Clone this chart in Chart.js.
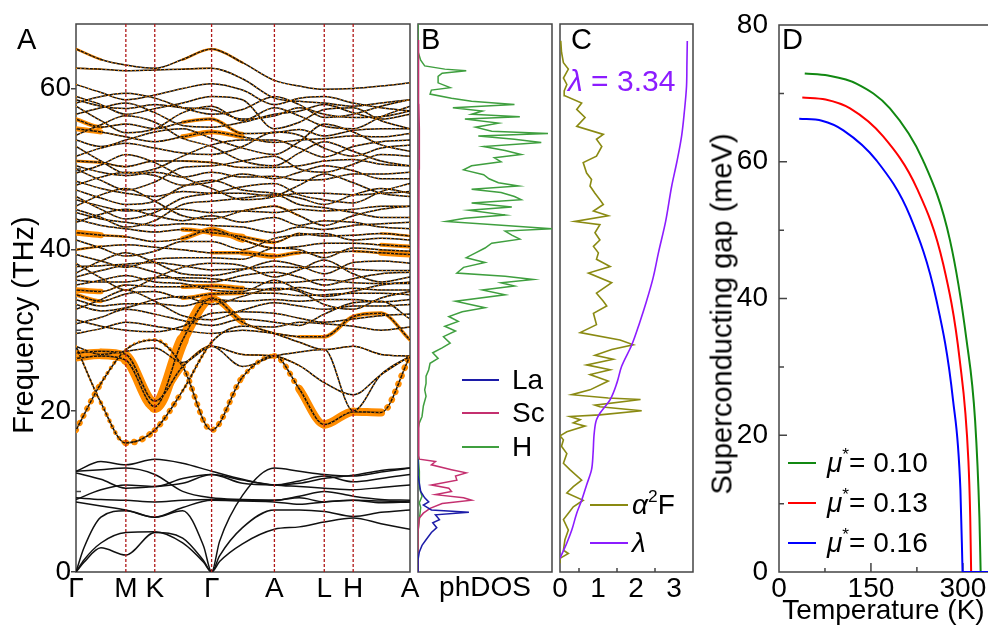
<!DOCTYPE html>
<html>
<head>
<meta charset="utf-8">
<script src="https://cdn.jsdelivr.net/npm/chart.js@4.4.1/dist/chart.umd.min.js"></script>
<style>
body{margin:0;background:#fff;width:988px;height:628px;position:relative;overflow:hidden;font-family:"Liberation Sans",Arial,Helvetica,sans-serif;}
canvas{position:absolute;top:0;}
.t{position:absolute;white-space:nowrap;line-height:1;color:#000;}
.rot{transform:translate(-50%,-50%) rotate(-90deg);}
.ln{position:absolute;height:2px;}
.sup{font-size:0.62em;position:relative;top:-0.7em;}
</style>
</head>
<body>
<canvas id="cA" width="424" height="628" style="left:0"></canvas>
<canvas id="cB" width="142" height="628" style="left:414px"></canvas>
<canvas id="cC" width="150" height="628" style="left:548px"></canvas>
<canvas id="cD" width="290" height="628" style="left:698px"></canvas>

<div class="t" style="left:17px;top:25px;font-size:29px">A</div>
<div class="t" style="left:421px;top:25px;font-size:29px">B</div>
<div class="t" style="left:571px;top:25px;font-size:29px">C</div>
<div class="t" style="left:782px;top:25px;font-size:29px">D</div>

<div class="t rot" style="left:23px;top:325px;font-size:29px">Frequency (THz)</div>
<div class="t rot" style="left:722px;top:314px;font-size:29px">Superconducting gap (meV)</div>

<div class="ln" style="left:462px;top:379px;width:37px;background:#1c1ca8"></div>
<div class="t" style="left:512px;top:366px;font-size:28px">La</div>
<div class="ln" style="left:462px;top:412px;width:37px;background:#c4306f"></div>
<div class="t" style="left:512px;top:399px;font-size:28px">Sc</div>
<div class="ln" style="left:462px;top:446px;width:37px;background:#3f9f3f"></div>
<div class="t" style="left:512px;top:433px;font-size:28px">H</div>

<div class="t" style="left:568px;top:66px;font-size:30px;color:#8c1cff"><i>λ</i> = 3.34</div>
<div class="ln" style="left:590px;top:504px;width:38px;background:#8a8a12"></div>
<div class="t" style="left:632px;top:491px;font-size:28px"><i>α</i><span class="sup">2</span>F</div>
<div class="ln" style="left:590px;top:542px;width:38px;background:#8c1cff"></div>
<div class="t" style="left:632px;top:529px;font-size:28px"><i>λ</i></div>

<div class="ln" style="left:788px;top:462px;width:28px;background:#118811"></div>
<div class="t" style="left:827px;top:449px;font-size:28px"><i>μ</i><span class="sup">*</span>= 0.10</div>
<div class="ln" style="left:788px;top:502px;width:28px;background:#ff0000"></div>
<div class="t" style="left:827px;top:489px;font-size:28px"><i>μ</i><span class="sup">*</span>= 0.13</div>
<div class="ln" style="left:788px;top:542px;width:28px;background:#0000ff"></div>
<div class="t" style="left:827px;top:529px;font-size:28px"><i>μ</i><span class="sup">*</span>= 0.16</div>

<script>
// k-path (positions along the path) and labels
const kPos = [0, 50, 79, 136, 199, 249, 278, 335];
const kLab = ['Γ', 'M', 'K', 'Γ', 'A', 'L', 'H', 'A'];
const kSample = [0, 25, 50, 79, 107, 136, 167, 199, 224, 249, 278, 306, 335];
const kAcoustic = [0, 8, 25, 50, 79, 107, 128, 136, 144, 167, 199, 224, 249, 278, 306, 335];

// acoustic branches (on kAcoustic), THz
const acousticBands = [
  [0, 1.2, 3.0, 2.1, 4.9, 4.2, 1.4, 0, 1.3, 3.5, 5.3, 5.6, 6.2, 6.7, 6.0, 5.3],
  [0, 1.5, 3.6, 4.9, 5.0, 3.6, 1.2, 0, 2.0, 5.5, 7.7, 7.7, 7.5, 6.9, 7.4, 7.7],
  [0, 3.0, 6.8, 7.6, 6.8, 7.6, 3.2, 0, 3.8, 9.5, 12.9, 12.5, 12.1, 11.9, 12.4, 12.9]
];

// low optical branches (on kSample)
const lowBands = [
  [8.7, 8.2, 7.7, 6.8, 8.0, 8.9, 8.8, 8.7, 8.4, 8.7, 8.9, 8.6, 8.7],
  [9.2, 9.0, 8.9, 8.7, 8.9, 9.0, 8.9, 8.9, 9.4, 10.0, 9.4, 9.0, 8.9],
  [9.0, 10.2, 10.8, 10.6, 11.6, 12.1, 11.4, 10.8, 10.6, 10.4, 10.2, 10.5, 10.8],
  [12.3, 11.5, 10.4, 10.6, 11.0, 12.1, 11.0, 10.8, 11.3, 11.9, 11.2, 11.6, 12.1],
  [12.5, 12.7, 12.9, 12.1, 10.0, 9.2, 9.0, 8.9, 9.2, 8.7, 8.9, 8.8, 8.7],
  [12.5, 13.7, 13.3, 14.0, 13.5, 12.5, 11.5, 10.8, 11.0, 11.6, 12.0, 12.6, 12.9]
];

// hydrogen branches (on kSample)
const upperBands = [
  [64.9, 63.6, 62.9, 62.5, 63.6, 64.9, 63.2, 61.0, 60.3, 59.9, 60.0, 60.3, 60.7],
  [62.5, 62.4, 62.2, 62.3, 62.4, 62.5, 61.2, 58.8, 58.4, 58.2, 57.8, 58.2, 58.6],
  [59.0, 58.0, 56.8, 57.5, 58.2, 59.0, 58.6, 55.0, 55.8, 57.4, 57.6, 56.0, 55.0],
  [58.6, 57.8, 57.5, 58.0, 57.6, 57.4, 56.2, 56.6, 57.6, 56.8, 56.4, 56.5, 57.2],
  [57.8, 56.0, 54.5, 55.0, 57.0, 57.8, 56.0, 57.6, 56.6, 55.3, 55.0, 56.5, 57.8],
  [56.2, 55.2, 55.6, 55.0, 55.8, 56.2, 54.4, 54.5, 54.9, 54.1, 54.8, 55.0, 55.0],
  [55.0, 54.6, 54.0, 53.4, 54.0, 54.6, 54.0, 53.3, 53.6, 53.8, 54.1, 54.0, 54.4],
  [54.2, 55.5, 56.6, 55.8, 53.8, 52.8, 51.0, 50.4, 52.0, 53.4, 52.2, 51.0, 50.4],
  [52.8, 51.0, 49.5, 50.0, 51.6, 53.0, 53.6, 53.6, 52.6, 51.5, 52.8, 53.4, 53.6],
  [51.0, 50.8, 50.3, 51.0, 51.0, 50.8, 50.2, 50.2, 50.4, 51.0, 51.2, 50.6, 50.4],
  [50.4, 49.6, 49.2, 49.6, 49.0, 49.6, 49.0, 49.1, 48.6, 48.7, 49.4, 49.4, 49.6],
  [49.5, 50.5, 51.8, 50.8, 49.0, 47.6, 46.2, 46.6, 48.0, 49.4, 48.3, 47.0, 46.6],
  [48.5, 47.6, 47.0, 46.6, 47.2, 47.0, 47.0, 46.6, 47.0, 47.0, 46.8, 47.0, 47.2],
  [46.6, 45.0, 43.8, 44.6, 46.4, 47.0, 47.8, 48.2, 46.8, 46.2, 45.8, 47.2, 48.2],
  [46.2, 45.4, 44.8, 45.0, 45.0, 44.6, 44.8, 44.6, 45.0, 44.8, 45.0, 45.4, 45.4],
  [45.4, 46.8, 47.6, 46.0, 44.2, 43.8, 44.8, 45.4, 44.2, 43.0, 44.2, 45.0, 45.4],
  [44.6, 43.8, 43.4, 43.0, 43.2, 43.0, 42.8, 42.1, 42.8, 42.5, 43.0, 43.2, 43.4],
  [43.8, 43.0, 42.6, 42.2, 42.5, 42.1, 41.6, 40.9, 42.0, 41.7, 41.8, 42.0, 41.7],
  [42.1, 41.8, 41.6, 41.0, 41.4, 42.5, 41.2, 40.2, 40.4, 40.8, 40.8, 40.6, 40.4],
  [40.0, 40.4, 40.6, 40.3, 40.0, 39.6, 39.6, 39.2, 39.6, 39.6, 39.8, 39.6, 39.4],
  [38.3, 36.5, 35.0, 36.5, 37.8, 38.3, 38.0, 36.6, 37.5, 38.7, 37.0, 36.0, 36.6],
  [37.9, 38.0, 38.2, 38.4, 38.0, 37.5, 37.6, 37.9, 37.8, 37.9, 37.6, 37.4, 37.4],
  [37.1, 38.6, 39.6, 38.4, 37.0, 36.8, 37.5, 38.6, 38.0, 37.0, 38.4, 38.6, 38.3],
  [36.2, 36.0, 36.0, 36.5, 36.5, 36.4, 36.0, 35.9, 36.0, 36.3, 35.9, 35.8, 35.8],
  [35.0, 34.8, 35.6, 35.4, 35.4, 35.5, 35.2, 35.0, 35.3, 35.0, 35.2, 35.0, 35.0],
  [34.4, 33.6, 34.5, 34.8, 34.0, 34.5, 34.6, 34.6, 34.3, 34.4, 34.6, 34.6, 34.4],
  [33.8, 33.0, 33.3, 33.3, 33.0, 33.8, 33.6, 33.8, 33.6, 33.8, 33.8, 33.5, 33.8],
  [32.6, 33.8, 35.0, 33.6, 31.8, 31.3, 32.5, 33.4, 33.0, 32.6, 33.0, 33.0, 33.2],
  [31.3, 30.5, 30.0, 29.8, 30.5, 32.1, 32.3, 32.1, 31.5, 31.0, 31.4, 31.8, 32.0],
  [29.6, 30.2, 31.0, 30.5, 30.0, 29.6, 30.0, 29.6, 29.2, 29.2, 31.7, 32.1, 28.8],
  [28.0, 27.0, 27.4, 27.8, 26.0, 28.0, 25.5, 26.8, 27.3, 27.6, 20.0, 24.5, 26.8],
  [60.5, 59.5, 58.6, 59.2, 60.0, 60.6, 59.8, 58.0, 58.8, 59.0, 58.2, 57.6, 57.2],
  [58.2, 59.0, 59.4, 58.8, 57.6, 56.8, 57.4, 59.0, 58.0, 56.4, 56.8, 57.8, 58.6],
  [56.8, 57.6, 58.2, 57.0, 55.4, 55.2, 55.8, 56.8, 57.2, 58.0, 57.0, 56.2, 56.8],
  [53.6, 52.8, 53.6, 54.6, 55.0, 53.8, 52.6, 51.8, 53.4, 55.6, 54.6, 53.0, 52.2],
  [51.6, 52.6, 53.2, 52.6, 52.0, 51.8, 52.8, 54.6, 54.2, 52.6, 51.6, 52.6, 53.0],
  [50.0, 48.6, 47.4, 48.4, 50.2, 50.4, 51.0, 51.6, 50.0, 49.6, 50.6, 51.8, 51.6],
  [48.0, 49.0, 49.6, 49.2, 48.0, 48.4, 49.4, 48.8, 49.6, 50.4, 49.8, 48.8, 48.8],
  [47.4, 46.4, 45.6, 46.0, 47.8, 48.6, 47.4, 47.0, 46.4, 45.6, 46.8, 47.6, 47.0],
  [45.0, 44.0, 42.8, 43.6, 45.6, 46.0, 46.4, 46.8, 45.6, 45.2, 44.6, 44.0, 44.0],
  [43.4, 44.4, 45.0, 44.2, 43.6, 44.2, 43.4, 44.0, 43.0, 43.6, 43.4, 42.8, 42.6],
  [41.2, 40.2, 39.2, 39.8, 41.0, 41.0, 40.0, 41.4, 41.8, 42.0, 41.2, 41.4, 41.2],
  [39.4, 38.6, 37.8, 38.8, 39.0, 39.0, 38.8, 40.2, 40.0, 39.0, 40.2, 40.0, 39.8],
  [36.6, 37.4, 38.0, 37.2, 36.2, 36.0, 36.8, 37.2, 36.6, 35.6, 36.4, 37.0, 37.2],
  [35.6, 36.2, 36.8, 36.0, 35.8, 35.0, 34.8, 36.2, 35.0, 34.2, 34.8, 35.6, 36.0],
  [33.2, 32.4, 32.8, 33.8, 34.2, 33.2, 34.2, 35.2, 34.8, 33.2, 32.6, 34.0, 34.8],
  [30.8, 31.6, 32.6, 32.0, 31.2, 30.6, 31.4, 31.0, 30.6, 32.0, 33.4, 33.6, 31.4]
];
// electron-phonon weight (orange width, px) for some of them
const upperWeights = [
  [4, 1, 0, 0, 1, 4, 1, 0, 0, 0, 0, 0, 0],
  [2, 1, 0, 0, 1, 2, 0, 0, 0, 0, 0, 0, 0],
  null, null, null,
  [6, 2, 0, 0, 1, 6, 1, 0, 0, 0, 0, 0, 0],
  [8, 2, 0, 0, 2, 8, 1, 0, 0, 0, 0, 0, 0],
  null, null,
  [4, 2, 1, 0, 1, 3, 0, 0, 0, 0, 0, 0, 0],
  null, null, null, null, null,
  [0, 0, 0, 0, 0, 0, 0, 3, 1, 0, 0, 0, 0],
  null,
  [0, 0, 0, 0, 1, 8, 4, 3, 1, 1, 0, 1, 4],
  [8, 4, 1, 0, 2, 8, 3, 1, 0, 0, 0, 2, 6],
  [4, 1, 0, 0, 0, 2, 5, 6, 2, 1, 1, 4, 8],
  null, null, null, null,
  [8, 3, 0, 0, 1, 8, 2, 0, 0, 0, 0, 0, 0],
  [6, 2, 0, 0, 2, 6, 2, 0, 0, 0, 0, 0, 0],
  null, null, null,
  [0, 0, 0, 0, 0, 0, 0, 1, 3, 4, 4, 4, 3],
  null,
  null, null, null, null, null, null, null, null, null, null, null, null, null, null, null, null
];

// strongly coupled branches between 16 and 35 THz
const fatBands = [
  [26.5, 26.8, 26.3, 20.5, 28.8, 34.0, 31.0, 29.6, 28.5, 27.6, 28.0, 27.0, 26.8],
  [27.2, 27.4, 27.0, 21.2, 25.5, 28.0, 27.0, 26.8, 25.6, 23.5, 22.0, 24.5, 26.8],
  [28.0, 21.0, 16.0, 17.6, 22.5, 28.5, 30.5, 30.4, 31.0, 30.8, 30.5, 30.0, 30.4],
  [17.6, 23.4, 27.6, 28.8, 25.5, 17.6, 24.2, 26.8, 22.7, 18.3, 19.9, 19.8, 26.8]
];
const fatWeights = [
  [6, 6, 7, 13, 12, 9, 3, 1, 1, 1, 1, 1, 1],
  [5, 5, 6, 9, 3, 1, 1, 2, 1, 0, 0, 0, 2],
  [2, 3, 6, 7, 5, 2, 1, 0, 0, 0, 0, 0, 0],
  [7, 5, 3, 3, 5, 7, 5, 5, 7, 9, 8, 8, 5]
];
const fatDotted = [false, false, true, true];

// B: projected phonon DOS (fraction of panel width)
const dosFreqH = [0, 5, 6.5, 8.0, 8.6, 9.4, 10.5, 12.5, 14.5, 17.7, 18.5, 19.3, 20.6, 21.8, 22.6, 23.4, 24.3, 25.1, 25.9, 26.5, 27.2, 27.8, 28.4, 29.2, 29.9, 30.5, 31.1, 31.7, 32.3, 32.8, 33.6, 34.4, 35.0, 35.5, 35.9, 36.3, 36.7, 37.1, 37.8, 38.4, 39.0, 39.6, 40.2, 40.8, 41.3, 41.8, 42.3, 42.6, 43.1, 43.5, 43.9, 44.3, 44.9, 45.3, 45.8, 46.2, 46.6, 47.1, 47.5, 47.9, 48.3, 48.8, 49.3, 49.9, 50.4, 50.9, 51.4, 51.8, 52.3, 52.8, 53.3, 53.7, 54.1, 54.4, 54.7, 55.2, 55.7, 56.2, 56.5, 56.8, 57.2, 57.6, 58.0, 58.4, 58.8, 59.3, 59.8, 60.1, 60.7, 61.5, 61.9, 62.2, 62.4, 62.8, 63.5, 64.6, 66, 68];
const dosH = [0, 0, 0.01, 0.02, 0.01, 0.03, 0.01, 0.01, 0, 0, 0.01, 0.03, 0.04, 0.06, 0.05, 0.06, 0.06, 0.08, 0.09, 0.15, 0.11, 0.18, 0.24, 0.19, 0.28, 0.20, 0.30, 0.23, 0.33, 0.50, 0.28, 0.65, 0.48, 0.72, 0.62, 0.86, 0.65, 0.29, 0.34, 0.50, 0.36, 0.43, 0.50, 0.55, 0.76, 0.70, 0.65, 1.00, 0.57, 0.21, 0.35, 0.65, 0.38, 0.70, 0.40, 0.77, 0.72, 0.62, 0.40, 0.75, 0.60, 0.53, 0.49, 0.34, 0.40, 0.62, 0.57, 0.77, 0.65, 0.49, 0.92, 0.72, 0.45, 0.97, 0.55, 0.43, 0.60, 0.35, 0.76, 0.40, 0.48, 0.26, 0.72, 0.40, 0.25, 0.09, 0.10, 0.24, 0.15, 0.15, 0.18, 0.36, 0.20, 0.05, 0.02, 0, 0, 0];
const dosFreqSc = [0, 5, 6.7, 7.3, 7.9, 8.5, 8.9, 9.2, 9.6, 10.0, 10.4, 10.8, 11.4, 11.9, 12.3, 12.7, 13.3, 13.7, 14.0, 14.5, 20, 30, 40, 50, 55, 58, 62, 66];
const dosSc = [0, 0, 0.01, 0.04, 0.09, 0.18, 0.40, 0.34, 0.13, 0.25, 0.23, 0.10, 0.29, 0.28, 0.36, 0.25, 0.10, 0.13, 0.01, 0.005, 0.005, 0.006, 0.006, 0.008, 0.01, 0.006, 0.005, 0.003];
const dosFreqLa = [0, 1.5, 2.5, 3.3, 4.0, 4.9, 5.5, 6.1, 6.5, 7.1, 7.4, 7.7, 8.3, 8.7, 9.2, 10.0, 11.0, 12, 14];
const dosLa = [0, 0, 0.01, 0.03, 0.06, 0.10, 0.14, 0.11, 0.16, 0.13, 0.38, 0.10, 0.04, 0.08, 0.05, 0.02, 0.01, 0, 0];

// C: Eliashberg function and cumulative lambda
const a2fFreq = [1.1, 1.7, 2.3, 2.7, 4.0, 5.2, 6.5, 7.3, 8.1, 8.9, 9.8, 10.6, 11.4, 12.7, 13.5, 14.7, 15.6, 16.4, 16.9, 17.4, 18.1, 18.5, 18.9, 19.3, 19.5, 20.0, 20.5, 20.7, 21.4, 21.6, 22.0, 22.6, 23.7, 24.5, 25.1, 25.7, 26.4, 26.9, 27.6, 28.2, 28.8, 29.7, 30.7, 32.1, 33.0, 33.6, 34.6, 35.9, 37.1, 37.9, 38.8, 39.6, 40.4, 41.2, 42.1, 43.1, 43.5, 44.2, 44.8, 45.6, 46.2, 47.0, 47.9, 48.7, 49.5, 50.8, 51.6, 52.8, 53.7, 54.3, 55.3, 56.4, 57.4, 58.2, 59.1, 59.7, 60.5, 61.3, 62.4, 63.2, 64.5, 65.9];
const a2f = [0, 0, 0.22, 0.09, 0.13, 0.22, 0.09, 0.22, 0.35, 0.61, 0.18, 0.35, 0.57, 0.26, 0.09, 0.18, 0.04, 0.09, 0, 0.18, 0.66, 0.35, 0.53, 0.26, 1.05, 2.15, 1.05, 0.92, 2.12, 1.27, 0.31, 0.79, 1.27, 0.79, 1.32, 0.70, 1.40, 0.92, 1.36, 1.93, 1.58, 0.53, 0.96, 0.88, 1.23, 1.14, 0.96, 1.36, 0.75, 1.32, 0.96, 1.01, 0.88, 1.05, 0.92, 1.05, 0.39, 1.27, 0.88, 1.14, 1.05, 0.92, 0.79, 0.83, 0.70, 0.61, 0.96, 1.10, 0.96, 1.14, 0.44, 0.66, 0.44, 0.57, 0.13, 0.11, 0.18, 0.09, 0.22, 0.09, 0.04, 0.02];
const lamFreq = [1.7, 3.6, 5.2, 7.3, 8.9, 10.8, 12.7, 14.7, 17.2, 18.9, 19.7, 21.4, 23.5, 25.5, 28.2, 31.0, 33.5, 36.5, 39.6, 43.5, 47.9, 51.0, 54.1, 57.0, 60.3, 63.0, 65.9];
const lam = [0, 0.18, 0.31, 0.44, 0.57, 0.70, 0.83, 0.87, 0.90, 0.96, 1.05, 1.32, 1.50, 1.62, 1.89, 2.10, 2.27, 2.45, 2.59, 2.78, 2.94, 3.08, 3.20, 3.27, 3.33, 3.34, 3.35];

// D: gap vs temperature for three mu*
const tempG = [42, 80, 127, 181, 235, 279, 306, 320, 327, 329];
const gapG = [72.9, 72.6, 71.4, 67.8, 60.2, 48.5, 33.9, 22.1, 8.0, 0];
const tempR = [38, 76, 116, 170, 225, 268, 295, 309, 312, 313.5];
const gapR = [69.4, 69.1, 67.8, 63.7, 56.1, 45.0, 30.9, 16.3, 8.0, 0];
const tempB = [33, 70, 105, 159, 214, 257, 284, 296, 299.5];
const gapB = [66.3, 66.0, 64.6, 60.2, 52.0, 39.7, 25.1, 12.0, 0];
const tMax = 341;

const ORANGE = '#ff8c00';
Chart.defaults.font.family = '"Liberation Sans", Arial, Helvetica, sans-serif';
Chart.defaults.color = '#000';

const framePlugin = {
  id: 'frame',
  beforeDatasetsDraw(chart, args, o) {
    const {ctx, chartArea: a, scales} = chart;
    ctx.save();
    ctx.strokeStyle = '#444';
    ctx.lineWidth = 1.5;
    ctx.beginPath();
    if (o.openRight) {
      ctx.moveTo(a.right, a.top); ctx.lineTo(a.left, a.top);
      ctx.lineTo(a.left, a.bottom); ctx.lineTo(a.right, a.bottom);
    } else {
      ctx.rect(a.left, a.top, a.width, a.height);
    }
    (o.xIn || []).forEach(t => {
      const px = scales.x.getPixelForValue(t[0]);
      ctx.moveTo(px, a.bottom); ctx.lineTo(px, a.bottom - t[1]);
    });
    (o.yIn || []).forEach(t => {
      const py = scales.y.getPixelForValue(t[0]);
      ctx.moveTo(a.left, py); ctx.lineTo(a.left + t[1], py);
    });
    ctx.stroke();
    ctx.restore();
  },
  afterDatasetsDraw(chart, args, o) {
    if (!o.vlines) return;
    const {ctx, chartArea: a} = chart;
    ctx.save();
    ctx.strokeStyle = '#b01818';
    ctx.lineWidth = 1.3;
    ctx.setLineDash([3, 2]);
    o.vlines.forEach(v => {
      const px = chart.scales.x.getPixelForValue(v);
      ctx.beginPath(); ctx.moveTo(px, a.top); ctx.lineTo(px, a.bottom); ctx.stroke();
    });
    ctx.restore();
  }
};
Chart.register(framePlugin);

function fixSize(size) {
  return s => {
    if (s.isHorizontal()) s.height = size; else s.width = size;
    s.paddingLeft = s.paddingRight = s.paddingTop = s.paddingBottom = 0;
  };
}
function setTicks(vals) {
  return s => { s.ticks = vals.map(v => ({value: v})); };
}
const common = {
  responsive: false, animation: false, events: [],
  plugins: {legend: {display: false}, tooltip: {enabled: false}},
  elements: {point: {radius: 0}}
};

// ---------- A: phonon bands ----------
const dsA = [];
function addBand(xs, ys, w, dotted, speckle) {
  const pts = xs.map((x, i) => ({x: x, y: ys[i]}));
  if (w) {
    const avg = c => (w[c.p0DataIndex] + w[c.p1DataIndex]) / 2;
    dsA.push({
      data: pts, order: 3, borderColor: ORANGE, borderWidth: 2,
      borderCapStyle: 'round', borderJoinStyle: 'round', cubicInterpolationMode: 'monotone',
      segment: {
        borderWidth: c => Math.max(avg(c), 0.5),
        borderColor: c => avg(c) > 0.4 ? ORANGE : 'rgba(0,0,0,0)',
        borderDash: c => (dotted && avg(c) < 7) ? [0.1, avg(c) + 2] : []
      }
    });
  }
  dsA.push({data: pts, order: 2, borderColor: '#111', borderWidth: 1.5, cubicInterpolationMode: 'monotone'});
  if (speckle) {
    dsA.push({data: pts, order: 1, borderColor: ORANGE, borderWidth: 1.2, borderDash: [1.2, 3], cubicInterpolationMode: 'monotone'});
  }
}
acousticBands.forEach(b => addBand(kAcoustic, b, null, false, false));
lowBands.forEach(b => addBand(kSample, b, null, false, false));
upperBands.forEach((b, i) => addBand(kSample, b, upperWeights[i], false, true));
fatBands.forEach((b, i) => addBand(kSample, b, fatWeights[i], fatDotted[i], true));

new Chart(document.getElementById('cA'), {
  type: 'line',
  data: {datasets: dsA},
  options: Object.assign({}, common, {
    layout: {padding: {top: 24, right: 14, left: 0, bottom: 0}},
    plugins: Object.assign({}, common.plugins, {
      frame: {vlines: kPos.slice(1, -1), yIn: [[10, 5], [30, 5], [50, 5]]}
    }),
    scales: {
      x: {
        type: 'linear', min: 0, max: 335,
        afterBuildTicks: setTicks(kPos), afterFit: fixSize(56),
        grid: {display: false, drawTicks: false}, border: {display: false},
        ticks: {autoSkip: false, maxRotation: 0, padding: 0, font: {size: 28}, callback: (v, i) => kLab[i]}
      },
      y: {
        type: 'linear', min: 0, max: 68,
        afterBuildTicks: setTicks([0, 20, 40, 60]), afterFit: fixSize(76),
        grid: {drawOnChartArea: false, tickLength: 5, color: '#444', lineWidth: 1.5}, border: {display: false},
        ticks: {padding: 0, font: {size: 28}}
      }
    }
  })
});

// ---------- B: phDOS ----------
function pairs(xs, ys) { return xs.map((f, i) => ({x: ys[i], y: f})); }
new Chart(document.getElementById('cB'), {
  type: 'line',
  data: {datasets: [
    {data: pairs(dosFreqLa, dosLa), borderColor: '#1c1ca8', borderWidth: 1.5, order: 1},
    {data: pairs(dosFreqSc, dosSc), borderColor: '#c4306f', borderWidth: 1.5, order: 2},
    {data: pairs(dosFreqH, dosH), borderColor: '#3f9f3f', borderWidth: 1.5, order: 3}
  ]},
  options: Object.assign({}, common, {
    indexAxis: 'y',
    layout: {padding: {top: 24, right: 4, left: 4, bottom: 0}},
    scales: {
      x: {
        type: 'linear', min: 0, max: 1, afterFit: fixSize(56),
        grid: {display: false, drawTicks: false}, border: {display: false},
        ticks: {display: false},
        title: {display: true, text: 'phDOS', font: {size: 28}, padding: {top: 0, bottom: 23}}
      },
      y: {type: 'linear', min: 0, max: 68, display: false}
    }
  })
});

// ---------- C: alpha^2F and lambda ----------
new Chart(document.getElementById('cC'), {
  type: 'line',
  data: {datasets: [
    {data: pairs(lamFreq, lam), borderColor: '#8c1cff', borderWidth: 1.6, cubicInterpolationMode: 'monotone', order: 1},
    {data: pairs(a2fFreq, a2f), borderColor: '#8a8a12', borderWidth: 1.6, order: 2}
  ]},
  options: Object.assign({}, common, {
    indexAxis: 'y',
    layout: {padding: {top: 24, right: 5, left: 12, bottom: 0}},
    plugins: Object.assign({}, common.plugins, {
      frame: {xIn: [[0.5, 4], [1.5, 4], [2.5, 4]]}
    }),
    scales: {
      x: {
        type: 'linear', min: 0, max: 3.5,
        afterBuildTicks: setTicks([0, 1, 2, 3]), afterFit: fixSize(56),
        grid: {display: false, drawTicks: false}, border: {display: false},
        ticks: {autoSkip: false, maxRotation: 0, padding: 0, font: {size: 28}}
      },
      y: {type: 'linear', min: 0, max: 68, display: false}
    }
  })
});

// ---------- D: superconducting gap ----------
function curve(ts, gs) { return ts.map((t, i) => ({x: t, y: gs[i]})); }
new Chart(document.getElementById('cD'), {
  type: 'line',
  data: {datasets: [
    {data: curve(tempG, gapG), borderColor: '#118811', borderWidth: 2, cubicInterpolationMode: 'monotone', order: 6},
    {data: curve([tempG[tempG.length - 1], tMax], [0, 0]), borderColor: '#118811', borderWidth: 2, order: 5},
    {data: curve(tempR, gapR), borderColor: '#ff0000', borderWidth: 2, cubicInterpolationMode: 'monotone', order: 4},
    {data: curve([tempR[tempR.length - 1], tMax], [0, 0]), borderColor: '#ff0000', borderWidth: 2, order: 3},
    {data: curve(tempB, gapB), borderColor: '#0000ff', borderWidth: 2, cubicInterpolationMode: 'monotone', order: 2},
    {data: curve([tempB[tempB.length - 1], tMax], [0, 0]), borderColor: '#0000ff', borderWidth: 2, order: 1}
  ]},
  options: Object.assign({}, common, {
    layout: {padding: {top: 25, right: 0, left: 0, bottom: 0}},
    plugins: Object.assign({}, common.plugins, {
      frame: {
        openRight: true,
        xIn: [[75, 4], [150, 9], [225, 5], [300, 9]],
        yIn: [[10, 5], [20, 8], [30, 5], [40, 8], [50, 5], [60, 8], [70, 5]]
      }
    }),
    scales: {
      x: {
        type: 'linear', min: 0, max: tMax,
        afterBuildTicks: setTicks([0, 150, 300]), afterFit: fixSize(56),
        grid: {display: false, drawTicks: false}, border: {display: false},
        ticks: {autoSkip: false, maxRotation: 0, padding: 0, font: {size: 28}},
        title: {display: true, text: 'Temperature (K)', font: {size: 28}, padding: {top: 0, bottom: 0}}
      },
      y: {
        type: 'linear', min: 0, max: 80,
        afterBuildTicks: setTicks([0, 20, 40, 60, 80]), afterFit: fixSize(81),
        grid: {display: false, drawTicks: false}, border: {display: false},
        ticks: {padding: 11, font: {size: 28}}
      }
    }
  })
});
</script>
</body>
</html>
